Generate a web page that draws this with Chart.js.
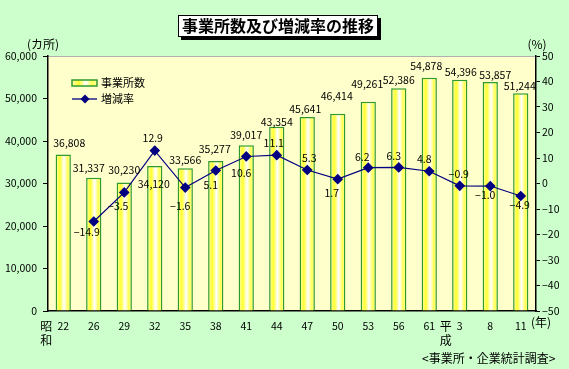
<!DOCTYPE html>
<html>
<head>
<meta charset="utf-8">
<script src="https://cdn.jsdelivr.net/npm/chart.js@4/dist/chart.umd.min.js"></script>
<style>
html, body { margin: 0; padding: 0; background: #ccffcc; }
#wrap { width: 569px; height: 369px; }
</style>
</head>
<body>
<div id="wrap"><canvas id="chart" width="569" height="369"></canvas></div>
<script>
const years = ['22', '26', '29', '32', '35', '38', '41', '44', '47', '50', '53', '56', '61', '3', '8', '11'];
const establishments = [36808, 31337, 30230, 34120, 33566, 35277, 39017, 43354, 45641, 46414, 49261, 52386, 54878, 54396, 53857, 51244];
const changeRates = [null, -14.9, -3.5, 12.9, -1.6, 5.1, 10.6, 11.1, 5.3, 1.7, 6.2, 6.3, 4.8, -0.9, -1.0, -4.9];

// where each value label sits relative to its bar top / point (px)
const barLabelOffsets = [[6, -12], [-5, -10], [0, -13], [-1, 18], [0, -8], [-1, -12], [0, -10], [0, -5],
    [-2, -8], [-1, -18], [-1, -18], [0, -8], [-3, -12], [1, -8], [5, -7], [-1, -7]];
const lineLabelOffsets = [null, [-7, 11], [-6, 14], [-2, -13], [-5, 18], [-5, 15], [-5, 17], [-3, -12],
    [2, -12], [-6, 14], [-6, -11], [-5, -11], [-5, -12], [-1, -12], [-5, 9], [-1, 9]];

const FONT = '"Noto Sans CJK JP", sans-serif';
const minus = (s) => String(s).replace('-', '−');

const makeBarGradient = (ctx, left, right) => {
    const g = ctx.createLinearGradient(left, 0, right, 0);
    g.addColorStop(0, '#ffffa8');
    g.addColorStop(0.28, '#ffff30');
    g.addColorStop(0.55, '#ffffff');
    g.addColorStop(0.8, '#ffff50');
    g.addColorStop(1, '#ffffa8');
    return g;
};

const plotBackground = {
    id: 'plotBackground',
    beforeDraw(chart) {
        const { ctx, chartArea: a } = chart;
        ctx.save();
        ctx.fillStyle = '#ccffcc';
        ctx.fillRect(0, 0, chart.width, chart.height);
        ctx.fillStyle = '#ffffcc';
        ctx.fillRect(a.left, a.top, a.right - a.left, a.bottom - a.top);
        ctx.strokeStyle = '#b0b0b0';
        ctx.lineWidth = 1;
        ctx.beginPath();
        ctx.moveTo(a.left, a.top + 0.5);
        ctx.lineTo(a.right, a.top + 0.5);
        ctx.stroke();
        ctx.restore();
    }
};

const textDecorations = {
    id: 'textDecorations',
    afterDraw(chart) {
        const { ctx } = chart;
        const xs = chart.scales.x;
        ctx.save();

        // title box with shadow
        ctx.fillStyle = '#000';
        ctx.fillRect(181, 18, 200, 22);
        ctx.fillStyle = '#fff';
        ctx.fillRect(178, 15, 200, 22);
        ctx.strokeStyle = '#000';
        ctx.lineWidth = 1;
        ctx.strokeRect(178.5, 15.5, 199, 21);
        ctx.fillStyle = '#000';
        ctx.font = 'bold 16px ' + FONT;
        ctx.textAlign = 'center';
        ctx.textBaseline = 'middle';
        ctx.fillText('事業所数及び増減率の推移', 278, 26);

        ctx.font = '12px ' + FONT;
        ctx.fillText('(カ所)', 43, 44);
        ctx.fillText('(%)', 537, 44);
        ctx.fillText('(年)', 541, 322);

        // era marks
        const showa = xs.getPixelForValue(0) - 17;
        const heisei = xs.getPixelForValue(13) - 14;
        ctx.fillText('昭', showa, 326);
        ctx.fillText('和', showa, 340);
        ctx.fillText('平', heisei, 326);
        ctx.fillText('成', heisei, 340);

        ctx.textAlign = 'left';
        ctx.fillText('<事業所・企業統計調査>', 422, 358);

        // legend
        const barSet = chart.data.datasets[0];
        const lineSet = chart.data.datasets[1];
        ctx.fillStyle = makeBarGradient(ctx, 72, 97);
        ctx.fillRect(72, 80, 25, 6);
        ctx.strokeStyle = barSet.borderColor;
        ctx.lineWidth = 1.5;
        ctx.strokeRect(72, 80, 25, 6);
        ctx.fillStyle = '#000';
        ctx.font = '11px ' + FONT;
        ctx.fillText(barSet.label, 101, 83);
        ctx.strokeStyle = lineSet.borderColor;
        ctx.lineWidth = 1.3;
        ctx.beginPath();
        ctx.moveTo(72, 99);
        ctx.lineTo(97, 99);
        ctx.stroke();
        ctx.fillStyle = lineSet.pointBackgroundColor;
        ctx.beginPath();
        ctx.moveTo(85, 94.5);
        ctx.lineTo(89.5, 99);
        ctx.lineTo(85, 103.5);
        ctx.lineTo(80.5, 99);
        ctx.closePath();
        ctx.fill();
        ctx.fillStyle = '#000';
        ctx.fillText(lineSet.label, 101, 99);

        // value labels
        ctx.textAlign = 'center';
        ctx.font = '10.5px ' + FONT;
        const barMeta = chart.getDatasetMeta(0);
        barMeta.data.forEach((el, i) => {
            const [dx, dy] = barLabelOffsets[i];
            ctx.fillText(establishments[i].toLocaleString('en-US'), el.x + dx, el.y + dy);
        });
        const lineMeta = chart.getDatasetMeta(1);
        lineMeta.data.forEach((el, i) => {
            if (changeRates[i] === null) return;
            const [dx, dy] = lineLabelOffsets[i];
            ctx.fillText(minus(changeRates[i].toFixed(1)), el.x + dx, el.y + dy);
        });

        ctx.restore();
    }
};

const ctx = document.getElementById('chart').getContext('2d');

const myChart = new Chart(ctx, {
    type: 'bar',
    data: {
        labels: years,
        datasets: [
            {
                type: 'bar',
                label: '事業所数',
                data: establishments,
                yAxisID: 'y',
                order: 1,
                backgroundColor: (c) => {
                    const xs = c.chart.scales.x;
                    if (!xs || c.dataIndex === undefined) return '#ffff66';
                    const cx = xs.getPixelForValue(c.dataIndex);
                    const half = xs.width / years.length * 0.25;
                    if (!isFinite(cx) || !isFinite(half)) return '#ffff66';
                    return makeBarGradient(c.chart.ctx, cx - half, cx + half);
                },
                borderColor: '#2f9a2f',
                borderWidth: 1.5,
                borderSkipped: 'bottom',
                categoryPercentage: 1,
                barPercentage: 0.5,
            },
            {
                type: 'line',
                label: '増減率',
                data: changeRates,
                yAxisID: 'y1',
                order: 0,
                borderColor: '#000080',
                borderWidth: 1.2,
                pointStyle: 'rectRot',
                pointRadius: 4.5,
                pointBackgroundColor: '#000080',
                pointBorderColor: '#000080',
                tension: 0,
            }
        ]
    },
    options: {
        responsive: false,
        animation: false,
        layout: { padding: { top: 56, left: 0, right: 0, bottom: 0 } },
        plugins: {
            legend: { display: false },
            title: { display: false },
            tooltip: { enabled: false },
        },
        scales: {
            x: {
                offset: true,
                grid: { display: true, drawOnChartArea: false, drawTicks: false },
                border: { color: '#000', width: 1.5 },
                ticks: {
                    color: '#000',
                    font: { family: FONT, size: 10.5 },
                    padding: 9,
                    maxRotation: 0,
                    autoSkip: false,
                },
                afterFit: (s) => { s.height = 58; },
            },
            y: {
                position: 'left',
                min: 0,
                max: 60000,
                grid: { drawOnChartArea: false, tickLength: 5, color: '#000' },
                border: { color: '#000', width: 1.5 },
                ticks: {
                    stepSize: 10000,
                    color: '#000',
                    padding: 6,
                    font: { family: FONT, size: 10.5 },
                    callback: (v) => v.toLocaleString('en-US'),
                },
                afterFit: (s) => { s.width = 48; },
            },
            y1: {
                position: 'right',
                min: -50,
                max: 50,
                grid: { drawOnChartArea: false, tickLength: 4, color: '#000' },
                border: { color: '#000', width: 1.5 },
                ticks: {
                    stepSize: 10,
                    color: '#000',
                    padding: 2,
                    font: { family: FONT, size: 10.5 },
                    callback: (v) => minus(v),
                },
                afterFit: (s) => { s.width = 33; },
            }
        }
    },
    plugins: [plotBackground, textDecorations]
});
myChart.update();
</script>
</body>
</html>
